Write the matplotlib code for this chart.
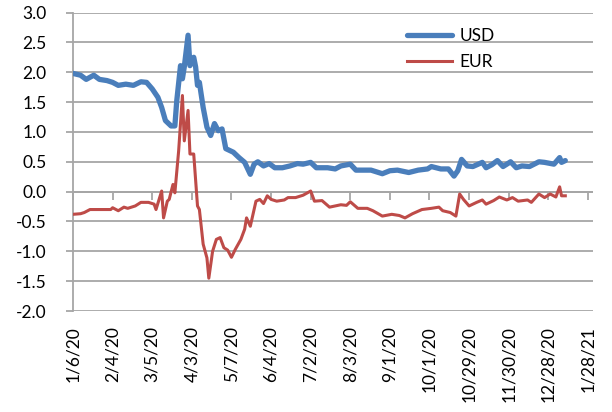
import matplotlib
matplotlib.use("Agg")
import matplotlib.pyplot as plt
from matplotlib.markers import TICKDOWN
from matplotlib.ticker import FormatStrFormatter

plt.rcParams["font.family"] = ["Lato", "DejaVu Sans"]

TICK_LABELS = ["1/6/20", "2/4/20", "3/5/20", "4/3/20", "5/7/20", "6/4/20",
               "7/2/20", "8/3/20", "9/1/20", "10/1/20", "10/29/20",
               "11/30/20", "12/28/20", "1/28/21"]
TICK_STEP = 21  # categories between labels

# category index / value
USD_IDX = [0, 4, 7, 11, 14, 18, 21, 24, 28, 32, 36, 39, 42, 45, 47, 49, 52,
           54, 55, 57, 58, 59, 61, 62, 64, 65, 66, 67, 69, 71, 73, 75, 77,
           79, 81, 85, 88, 91, 94, 96, 98, 101, 104, 107, 111, 115, 119,
           122, 126, 129, 135, 139, 142, 147, 150, 154, 158, 164, 168, 172,
           178, 183, 188, 190, 195, 199, 202, 204, 206, 209, 212, 217, 219,
           222, 225, 228, 232, 235, 238, 242, 247, 250, 255, 258, 259, 261]
USD_VAL = [1.98, 1.95, 1.88, 1.95, 1.88, 1.86, 1.83, 1.78, 1.80, 1.78, 1.84,
           1.83, 1.72, 1.58, 1.41, 1.19, 1.10, 1.10, 1.52, 2.11, 1.89, 2.09,
           2.62, 2.11, 2.25, 2.09, 1.78, 1.83, 1.41, 1.08, 0.94, 1.14, 1.02,
           1.05, 0.72, 0.66, 0.57, 0.49, 0.29, 0.46, 0.50, 0.43, 0.47, 0.40,
           0.40, 0.43, 0.47, 0.46, 0.49, 0.40, 0.40, 0.38, 0.43, 0.46, 0.36,
           0.36, 0.36, 0.30, 0.35, 0.36, 0.32, 0.36, 0.38, 0.42, 0.38, 0.38,
           0.26, 0.35, 0.54, 0.43, 0.42, 0.49, 0.40, 0.45, 0.52, 0.42, 0.50,
           0.40, 0.43, 0.42, 0.50, 0.49, 0.46, 0.57, 0.49, 0.52]

EUR_IDX = [0, 4, 6, 9, 13, 16, 20, 21, 24, 27, 29, 33, 36, 40, 43, 44, 47,
           48, 50, 51, 53, 54, 56, 58, 59, 61, 62, 64, 66, 67, 69, 71, 72,
           74, 76, 78, 80, 82, 84, 86, 89, 91, 92, 94, 97, 99, 101, 103, 105,
           108, 112, 114, 118, 122, 126, 128, 132, 136, 142, 145, 147, 151,
           156, 159, 164, 169, 173, 176, 180, 185, 190, 194, 196, 200, 203,
           205, 207, 210, 214, 217, 219, 223, 226, 230, 233, 236, 241, 243,
           247, 250, 253, 256, 258, 259, 261]
EUR_VAL = [-0.38, -0.37, -0.35, -0.30, -0.30, -0.30, -0.30, -0.27, -0.32,
           -0.26, -0.28, -0.24, -0.18, -0.18, -0.21, -0.30, 0.01, -0.44,
           -0.16, -0.13, 0.12, -0.02, 0.68, 1.61, 0.85, 1.36, 0.63, 0.63,
           -0.24, -0.30, -0.88, -1.11, -1.45, -1.00, -0.80, -0.77, -0.94,
           -0.98, -1.10, -0.97, -0.80, -0.63, -0.44, -0.58, -0.16, -0.13,
           -0.20, -0.07, -0.13, -0.16, -0.14, -0.10, -0.10, -0.06, 0.01,
           -0.16, -0.15, -0.26, -0.22, -0.23, -0.17, -0.28, -0.28, -0.32,
           -0.41, -0.38, -0.40, -0.44, -0.37, -0.30, -0.28, -0.26, -0.32,
           -0.35, -0.41, -0.04, -0.13, -0.24, -0.18, -0.14, -0.21, -0.15,
           -0.09, -0.14, -0.10, -0.16, -0.14, -0.18, -0.04, -0.10, -0.04,
           -0.09, 0.08, -0.07, -0.07]

GRID = "#a6a6a6"

fig = plt.figure(figsize=(6.12, 4.12), dpi=100)
ax = fig.add_axes([0.1193, 0.2451, 0.8497, 0.7245])

ax.plot(USD_IDX, USD_VAL, color="#4a7ebb", lw=3.8, label="USD",
        solid_joinstyle="round", solid_capstyle="round", zorder=3)
ax.plot(EUR_IDX, EUR_VAL, color="#be4b48", lw=2.2, label="EUR",
        solid_joinstyle="round", zorder=3)

ax.set_ylim(-2.0, 3.0)
ax.set_xlim(0, 275.7)
ax.set_yticks([-2.0 + 0.5 * i for i in range(11)])
ax.yaxis.set_major_formatter(FormatStrFormatter("%.1f"))
ax.grid(axis="y", color=GRID, lw=1.3)
ax.set_axisbelow(True)

ticks = [i * TICK_STEP for i in range(len(TICK_LABELS))]
ax.set_xticks(ticks)
ax.set_xticklabels(TICK_LABELS, rotation=90, fontsize=12.5)
ax.tick_params(axis="x", length=0, pad=11)
ax.tick_params(axis="y", length=5, color=GRID, width=1.3, pad=14,
               labelsize=12.5)

for side in ["top", "right", "bottom"]:
    ax.spines[side].set_visible(False)
ax.spines["left"].set_color(GRID)
ax.spines["left"].set_linewidth(1.3)

# category axis crossing at zero, with its tick marks
ax.axhline(0, color=GRID, lw=1.3, zorder=1)
ax.plot(ticks, [0] * len(ticks), ls="none", marker=TICKDOWN, ms=6,
        mew=1.3, color=GRID, zorder=1, clip_on=False)

fig.legend(loc="upper left", bbox_to_anchor=(0.64, 0.97), frameon=False,
           fontsize=12.5, handlelength=2.6, labelspacing=0.6,
           handletextpad=0.4)

fig.savefig("out.png", dpi=100, facecolor="white")
